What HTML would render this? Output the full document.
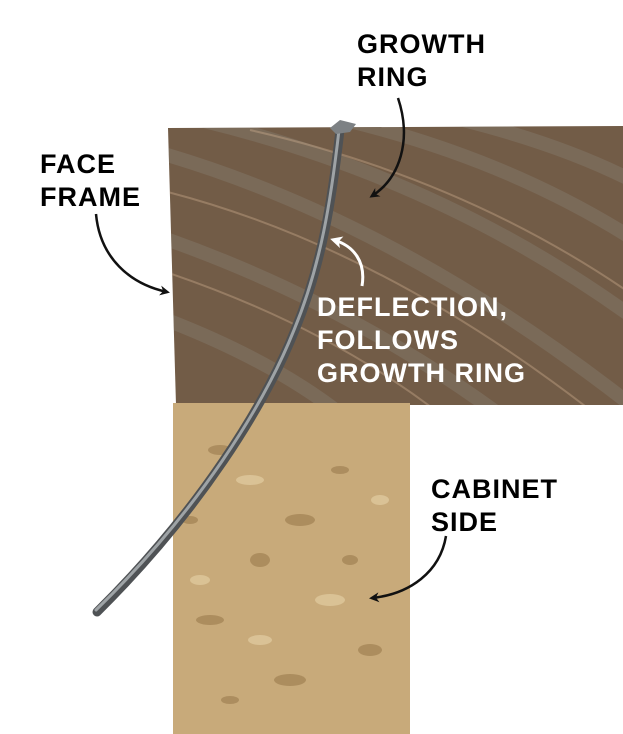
<!DOCTYPE html>
<html><head><style>
html,body{margin:0;padding:0;background:#fff;}
svg{display:block}
text{font-family:"Liberation Sans",Arial,sans-serif;font-weight:bold;font-size:27px;letter-spacing:1px;}
</style></head><body>
<svg width="623" height="734" viewBox="0 0 623 734" xmlns="http://www.w3.org/2000/svg">
<defs>
<clipPath id="fb"><polygon points="168,128 623,126 623,405 176,405"/></clipPath>
<clipPath id="cs"><rect x="173" y="403" width="237" height="331"/></clipPath>
<marker id="ab" markerWidth="10" markerHeight="10" refX="7" refY="5" orient="auto" markerUnits="userSpaceOnUse"><path d="M0,0 L10,5 L0,10 L3,5z" fill="#111"/></marker>
<marker id="aw" markerWidth="12" markerHeight="12" refX="8" refY="6" orient="auto" markerUnits="userSpaceOnUse"><path d="M0,0 L12,6 L0,12 L3,6z" fill="#fff"/></marker>
</defs>
<polygon points="168,128 623,126 623,405 176,405" fill="#725c47"/>
<g clip-path="url(#fb)" stroke-width="14" fill="none" opacity="0.3">
<path d="M150,150 Q400,220 650,420" stroke="#8e8a80"/>
<path d="M200,120 Q450,180 650,330" stroke="#8e8a80"/>
<path d="M300,110 Q500,150 650,250" stroke="#8e8a80"/>
<path d="M140,230 Q350,300 520,430" stroke="#8e8a80"/>
<path d="M140,310 Q280,360 360,430" stroke="#8e8a80"/>
<path d="M420,110 Q560,140 650,190" stroke="#8e8a80"/>
</g>
<g clip-path="url(#fb)" stroke-width="2" fill="none" opacity="0.35" stroke="#d9b898">
<path d="M160,190 Q400,250 640,450"/>
<path d="M250,130 Q470,180 640,300"/>
<path d="M160,270 Q340,330 460,430"/>
</g>
<rect x="173" y="403" width="237" height="331" fill="#c8aa7a"/>
<g clip-path="url(#cs)" fill="#9a7a4c" opacity="0.6">
<ellipse cx="220" cy="450" rx="12" ry="5"/><ellipse cx="300" cy="520" rx="15" ry="6"/>
<ellipse cx="260" cy="560" rx="10" ry="7"/><ellipse cx="340" cy="470" rx="9" ry="4"/>
<ellipse cx="210" cy="620" rx="14" ry="5"/><ellipse cx="370" cy="650" rx="12" ry="6"/>
<ellipse cx="290" cy="680" rx="16" ry="6"/><ellipse cx="230" cy="700" rx="9" ry="4"/>
<ellipse cx="350" cy="560" rx="8" ry="5"/><ellipse cx="190" cy="520" rx="8" ry="4"/>
</g>
<g clip-path="url(#cs)" fill="#e6d2a8" opacity="0.6">
<ellipse cx="250" cy="480" rx="14" ry="5"/><ellipse cx="330" cy="600" rx="15" ry="6"/>
<ellipse cx="200" cy="580" rx="10" ry="5"/><ellipse cx="380" cy="500" rx="9" ry="5"/>
<ellipse cx="260" cy="640" rx="12" ry="5"/>
</g>
<path d="M340,130 C332,200 322,265 295,330 C265,405 200,510 97,612" stroke="#4f5255" stroke-width="9" fill="none" stroke-linecap="round"/>
<path d="M339,130 C331,200 321,265 294,330 C264,405 199,510 96,610" stroke="#9ea3a6" stroke-width="3" fill="none" stroke-linecap="round"/>
<polygon points="330,128 340,120 356,124 350,132 336,134" fill="#7d8184"/>
<text x="357" y="53">GROWTH</text>
<text x="357" y="86">RING</text>
<text x="40" y="173">FACE</text>
<text x="40" y="206">FRAME</text>
<text x="317" y="316" fill="#fff">DEFLECTION,</text>
<text x="317" y="349" fill="#fff">FOLLOWS</text>
<text x="317" y="382" fill="#fff">GROWTH RING</text>
<text x="431" y="498">CABINET</text>
<text x="431" y="531">SIDE</text>
<path d="M398,98 C412,140 400,178 372,196" stroke="#111" stroke-width="2.5" fill="none" marker-end="url(#ab)"/>
<path d="M96,214 C100,258 130,284 167,292" stroke="#111" stroke-width="2.5" fill="none" marker-end="url(#ab)"/>
<path d="M362,286 C366,262 354,246 334,240" stroke="#fff" stroke-width="3" fill="none" marker-end="url(#aw)"/>
<path d="M446,536 C440,572 410,594 372,598" stroke="#111" stroke-width="2.5" fill="none" marker-end="url(#ab)"/>
</svg>
</body></html>
